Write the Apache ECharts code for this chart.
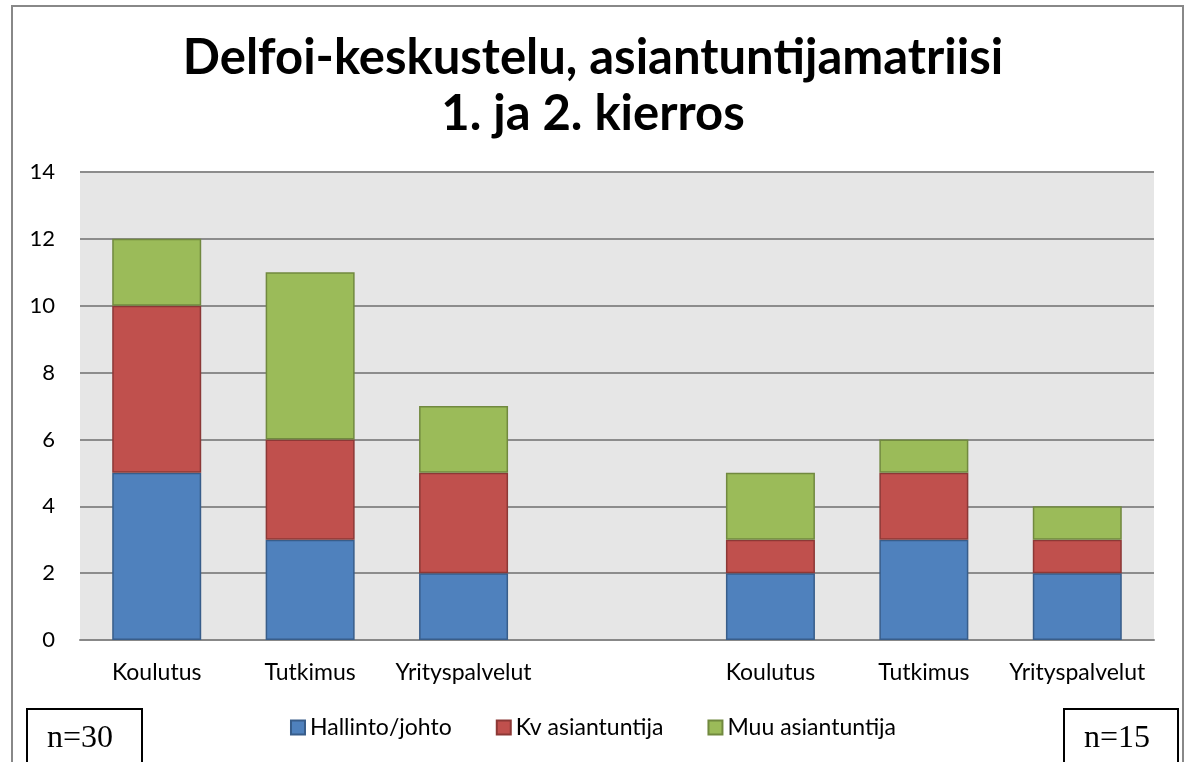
<!DOCTYPE html>
<html><head><meta charset="utf-8">
<script src="https://cdn.jsdelivr.net/npm/echarts@6/dist/echarts.min.js"></script>
<style>html,body{margin:0;padding:0;background:#fff}#c{width:1186px;height:762px}</style>
</head><body><div id="c"></div>
<script>
const categories = ['Koulutus','Tutkimus','Yrityspalvelut','','Koulutus','Tutkimus','Yrityspalvelut'];
const hallinto = [5,3,2,'-',2,3,2];
const kv = [5,3,3,'-',1,2,1];
const muu = [2,5,2,'-',2,1,1];
const seriesNames = ['Hallinto/johto','Kv asiantuntija','Muu asiantuntija'];
const yTicks = {min:0,max:14,interval:2};
const titleText = 'Delfoi-keskustelu, asiantuntijamatriisi\n1. ja 2. kierros';
const nLeft = 'n=30', nRight = 'n=15';

const F = 'Lato, "Open Sans", sans-serif';
const chart = echarts.init(document.getElementById('c'), null, {renderer:'canvas'});
const mk = (name, data, color, border) => ({
  name, type:'bar', stack:'a', data, barWidth:'58%',
  itemStyle:{color, borderColor:border, borderWidth:1.5}
});
chart.setOption({
  animation:false,
  title:{text:titleText,left:'center',top:25,
    textStyle:{fontFamily:F,fontWeight:'bold',fontSize:49,color:'#000',lineHeight:56}},
  grid:{left:80,right:32,top:172,bottom:122,show:true,backgroundColor:'#e6e6e6',borderWidth:0},
  legend:{bottom:18,left:'center',itemWidth:14,itemHeight:14,itemGap:44,icon:'rect',
    textStyle:{fontFamily:F,fontSize:23,color:'#000'}},
  xAxis:{type:'category',data:categories,
    axisLine:{lineStyle:{color:'#888',width:2}},axisTick:{show:false},
    axisLabel:{fontFamily:F,fontSize:23,color:'#000',margin:21,interval:0}},
  yAxis:{type:'value',min:yTicks.min,max:yTicks.max,interval:yTicks.interval,
    axisLine:{show:false},axisTick:{show:false},
    splitLine:{lineStyle:{color:'#8c8c8c',width:2}},
    axisLabel:{fontFamily:F,fontSize:22,color:'#000',margin:25}},
  series:[
    mk(seriesNames[0],hallinto,'#4F81BD','#385D8A'),
    mk(seriesNames[1],kv,'#C0504D','#8C3836'),
    mk(seriesNames[2],muu,'#9BBB59','#71893F')
  ],
  graphic:[
    {type:'rect',shape:{x:12,y:6,width:1171,height:770},style:{fill:null,stroke:'#888',lineWidth:2},silent:true},
    {type:'rect',shape:{x:27,y:709,width:115,height:60},style:{fill:'#fff',stroke:'#000',lineWidth:2}},
    {type:'text',left:47,top:723,style:{text:nLeft,font:'32px "Liberation Serif", serif',fill:'#000'}},
    {type:'rect',shape:{x:1064,y:709,width:114,height:60},style:{fill:'#fff',stroke:'#000',lineWidth:2}},
    {type:'text',left:1084,top:723,style:{text:nRight,font:'32px "Liberation Serif", serif',fill:'#000'}}
  ]
});
</script></body></html>
